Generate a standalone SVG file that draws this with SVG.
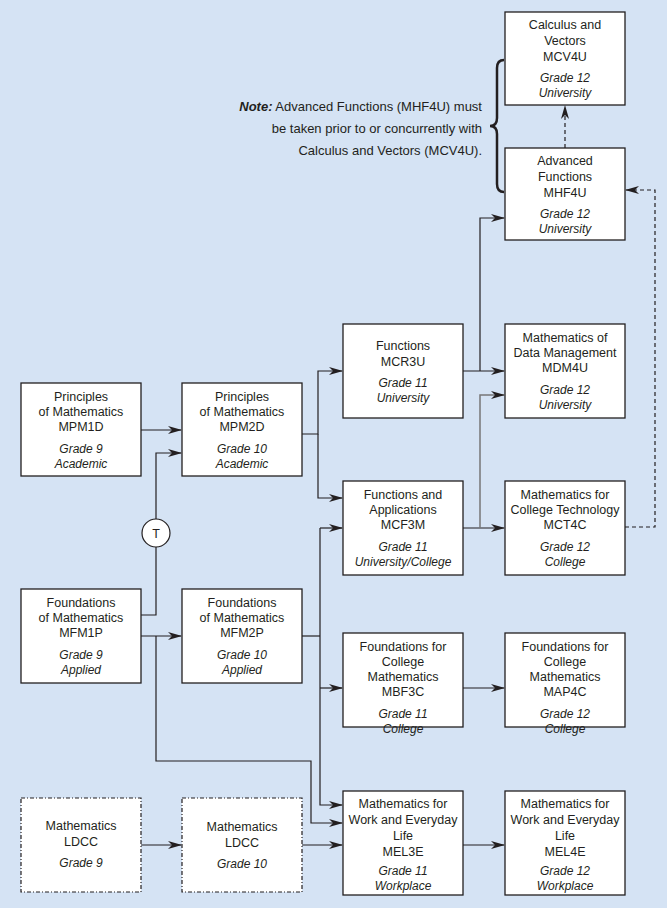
<svg xmlns="http://www.w3.org/2000/svg" width="667" height="908" viewBox="0 0 667 908">
<style>
.b{fill:#fff;stroke:#231f20;stroke-width:1.3}
.d{fill:#fff;stroke:#231f20;stroke-width:1.2;stroke-dasharray:4,2,1,2}
text{font-family:"Liberation Sans","DejaVu Sans",sans-serif;font-size:12.5px;fill:#231f20;text-anchor:middle}
.i{font-style:italic;font-size:12px}
.c{fill:none;stroke:#231f20;stroke-width:1.2}
.g{fill:none;stroke:#777;stroke-width:1.5}
.ds{fill:none;stroke:#231f20;stroke-width:1.2;stroke-dasharray:4,3}
</style>
<defs><marker id="a" markerWidth="14" markerHeight="8" refX="13" refY="4" orient="auto" markerUnits="userSpaceOnUse"><path d="M0,0 L14,4 L0,8 L4,4 Z" fill="#231f20"/></marker></defs>
<rect width="667" height="908" fill="#d5e3f4"/>
<g id="connectors">
<path class="c" d="M141,430 H181" marker-end="url(#a)"/>
<path class="c" d="M141,615 H156 V453 H181" marker-end="url(#a)"/>
<path class="c" d="M141,636 H181" marker-end="url(#a)"/>
<path class="c" d="M156,636 V761 H311 V823 H342" marker-end="url(#a)"/>
<path class="c" d="M302,434 H318 V371 H342" marker-end="url(#a)"/>
<path class="c" d="M318,434 V498 H342" marker-end="url(#a)"/>
<path class="c" d="M302,636 H320"/>
<path class="c" d="M320,528 V805 H342" marker-end="url(#a)"/>
<path class="c" d="M320,528 H342" marker-end="url(#a)"/>
<path class="c" d="M320,688 H342" marker-end="url(#a)"/>
<path class="c" d="M141,845 H181" marker-end="url(#a)"/>
<path class="c" d="M302,845 H342" marker-end="url(#a)"/>
<path class="c" d="M463,371 H504" marker-end="url(#a)"/>
<path class="c" d="M480,371 V218 H504" marker-end="url(#a)"/>
<path class="c" d="M463,528 H504" marker-end="url(#a)"/>
<path class="g" d="M480,528 V395 H504" marker-end="url(#a)"/>
<path class="c" d="M463,688 H504" marker-end="url(#a)"/>
<path class="c" d="M463,845 H504" marker-end="url(#a)"/>
<path class="ds" d="M625,527 H655 V190 H626" marker-end="url(#a)"/>
<path class="ds" d="M565,148 V106" marker-end="url(#a)"/>
</g>
<g id="T"><circle cx="156" cy="533" r="14" fill="#fff" stroke="#231f20" stroke-width="1.2"/><text x="156" y="538">T</text></g>
<g id="note">
<path d="M504,60 Q497,60 497,68 V118 Q497,126 490,126 Q497,126 497,134 V184 Q497,192 504,192" fill="none" stroke="#231f20" stroke-width="2.5"/>
<text x="482" y="111" style="text-anchor:end;font-size:13px"><tspan font-weight="bold" font-style="italic">Note:</tspan> Advanced Functions (MHF4U) must</text>
<text x="482" y="133" style="text-anchor:end;font-size:13px">be taken prior to or concurrently with</text>
<text x="482" y="155" style="text-anchor:end;font-size:13px">Calculus and Vectors (MCV4U).</text>
</g>
<g id="MCV4U"><rect class="b" x="505" y="12" width="120" height="93"/><text x="565" y="29">Calculus and</text><text x="565" y="45">Vectors</text><text x="565" y="61">MCV4U</text><text class="i" x="565" y="82">Grade 12</text><text class="i" x="565" y="97">University</text></g>
<g id="MHF4U"><rect class="b" x="505" y="148" width="120" height="92"/><text x="565" y="165">Advanced</text><text x="565" y="181">Functions</text><text x="565" y="197">MHF4U</text><text class="i" x="565" y="218">Grade 12</text><text class="i" x="565" y="233">University</text></g>
<g id="MCR3U"><rect class="b" x="343" y="324" width="120" height="94"/><text x="403" y="350">Functions</text><text x="403" y="366">MCR3U</text><text class="i" x="403" y="387">Grade 11</text><text class="i" x="403" y="402">University</text></g>
<g id="MDM4U"><rect class="b" x="505" y="324" width="120" height="94"/><text x="565" y="342">Mathematics of</text><text x="565" y="357">Data Management</text><text x="565" y="372">MDM4U</text><text class="i" x="565" y="394">Grade 12</text><text class="i" x="565" y="409">University</text></g>
<g id="MPM1D"><rect class="b" x="21" y="383" width="120" height="93"/><text x="81" y="401">Principles</text><text x="81" y="416">of Mathematics</text><text x="81" y="431">MPM1D</text><text class="i" x="81" y="453">Grade 9</text><text class="i" x="81" y="468">Academic</text></g>
<g id="MPM2D"><rect class="b" x="182" y="383" width="120" height="93"/><text x="242" y="401">Principles</text><text x="242" y="416">of Mathematics</text><text x="242" y="431">MPM2D</text><text class="i" x="242" y="453">Grade 10</text><text class="i" x="242" y="468">Academic</text></g>
<g id="MCF3M"><rect class="b" x="343" y="481" width="120" height="94"/><text x="403" y="499">Functions and</text><text x="403" y="514">Applications</text><text x="403" y="529">MCF3M</text><text class="i" x="403" y="551">Grade 11</text><text class="i" x="403" y="566">University/College</text></g>
<g id="MCT4C"><rect class="b" x="505" y="481" width="120" height="94"/><text x="565" y="499">Mathematics for</text><text x="565" y="514">College Technology</text><text x="565" y="529">MCT4C</text><text class="i" x="565" y="551">Grade 12</text><text class="i" x="565" y="566">College</text></g>
<g id="MFM1P"><rect class="b" x="21" y="589" width="120" height="94"/><text x="81" y="607">Foundations</text><text x="81" y="622">of Mathematics</text><text x="81" y="637">MFM1P</text><text class="i" x="81" y="659">Grade 9</text><text class="i" x="81" y="674">Applied</text></g>
<g id="MFM2P"><rect class="b" x="182" y="589" width="120" height="94"/><text x="242" y="607">Foundations</text><text x="242" y="622">of Mathematics</text><text x="242" y="637">MFM2P</text><text class="i" x="242" y="659">Grade 10</text><text class="i" x="242" y="674">Applied</text></g>
<g id="MBF3C"><rect class="b" x="343" y="633" width="120" height="94"/><text x="403" y="651">Foundations for</text><text x="403" y="666">College</text><text x="403" y="681">Mathematics</text><text x="403" y="696">MBF3C</text><text class="i" x="403" y="718">Grade 11</text><text class="i" x="403" y="733">College</text></g>
<g id="MAP4C"><rect class="b" x="505" y="633" width="120" height="94"/><text x="565" y="651">Foundations for</text><text x="565" y="666">College</text><text x="565" y="681">Mathematics</text><text x="565" y="696">MAP4C</text><text class="i" x="565" y="718">Grade 12</text><text class="i" x="565" y="733">College</text></g>
<g id="LDCC9"><rect class="d" x="21" y="798" width="120" height="94"/><text x="81" y="830">Mathematics</text><text x="81" y="846">LDCC</text><text class="i" x="81" y="867">Grade 9</text></g>
<g id="LDCC10"><rect class="d" x="182" y="798" width="120" height="94"/><text x="242" y="831">Mathematics</text><text x="242" y="847">LDCC</text><text class="i" x="242" y="868">Grade 10</text></g>
<g id="MEL3E"><rect class="b" x="343" y="791" width="120" height="104"/><text x="403" y="808">Mathematics for</text><text x="403" y="824">Work and Everyday</text><text x="403" y="840">Life</text><text x="403" y="856">MEL3E</text><text class="i" x="403" y="875">Grade 11</text><text class="i" x="403" y="890">Workplace</text></g>
<g id="MEL4E"><rect class="b" x="505" y="791" width="120" height="104"/><text x="565" y="808">Mathematics for</text><text x="565" y="824">Work and Everyday</text><text x="565" y="840">Life</text><text x="565" y="856">MEL4E</text><text class="i" x="565" y="875">Grade 12</text><text class="i" x="565" y="890">Workplace</text></g>
</svg>
